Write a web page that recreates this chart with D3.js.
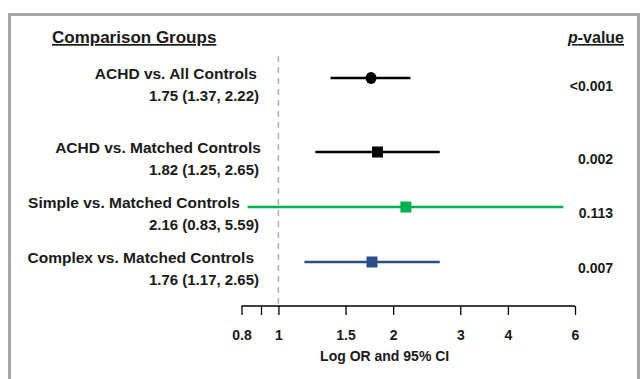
<!DOCTYPE html>
<html><head><meta charset="utf-8">
<script src="https://cdn.jsdelivr.net/npm/d3@7"></script>
<style>
html,body{margin:0;padding:0;background:#fff;}
text{font-family:"Liberation Sans Narrow","Arial Narrow","Liberation Sans",Arial,sans-serif;font-weight:bold;fill:#1a1a1a;}
</style></head>
<body><svg id="c" width="641" height="379"></svg>
<script>
const groups = ["ACHD vs. All Controls","ACHD vs. Matched Controls","Simple vs. Matched Controls","Complex vs. Matched Controls"];
const orValues = [1.75, 1.82, 2.16, 1.76];
const ciLow = [1.37, 1.25, 0.83, 1.17];
const ciHigh = [2.22, 2.65, 5.59, 2.65];
const pValues = ["<0.001","0.002","0.113","0.007"];
const tickValues = [0.8, 0.9, 1, 1.5, 2, 3, 4, 6];
const tickLabels = ["0.8","","1","1.5","2","3","4","6"];

// layout (not data)
const rowY = [78, 152, 207, 262];
const labelRight = [257, 261, 240, 254];
const shapes = ["circle","square","square","square"];
const colors = ["#000000","#000000","#00b050","#2a4f86"];
const pY = [91, 164, 218, 273];

const svg = d3.select("#c");
svg.append("rect").attr("x",9.5).attr("y",14.5).attr("width",629).attr("height",380)
  .attr("fill","none").attr("stroke","#a6a6a6").attr("stroke-width",3);

const x = d3.scaleLog().domain([0.8, 6]).range([241.5, 575]);
const axisY = 306;

// reference line
svg.append("line").attr("x1",x(1)).attr("x2",x(1)).attr("y1",56).attr("y2",axisY)
  .attr("stroke","#b0b0b0").attr("stroke-width",1.5).attr("stroke-dasharray","6,5");

// axis
const axis = d3.axisBottom(x).tickValues(tickValues).tickFormat((d,i)=>tickLabels[i]).tickSize(9).tickSizeOuter(0);
const ag = svg.append("g").attr("transform",`translate(0,${axisY})`).call(axis);
ag.select(".domain").attr("stroke","#000").attr("stroke-width",1.3).attr("d",`M${x(0.8)},0H${x(6)}`);
ag.selectAll(".tick line").attr("stroke","#000").attr("stroke-width",1.3);
ag.selectAll(".tick text").attr("y",24).attr("font-size",14).attr("fill","#1a1a1a")
  .style("font-family",'"Liberation Sans Narrow","Arial Narrow",Arial,sans-serif').style("font-weight","bold");

svg.append("text").attr("x",x(1.9)).attr("y",361).attr("text-anchor","middle").attr("font-size",14)
  .text("Log OR and 95% CI");

// headers
svg.append("text").attr("x",52).attr("y",43).attr("font-size",17).attr("text-decoration","underline")
  .text("Comparison Groups");
const pv = svg.append("text").attr("x",624).attr("y",43).attr("font-size",16).attr("text-anchor","end")
  .attr("text-decoration","underline");
pv.append("tspan").attr("font-style","italic").text("p");
pv.append("tspan").text("-value");

// rows
groups.forEach((g,i)=>{
  const y = rowY[i];
  svg.append("line").attr("x1",x(ciLow[i])).attr("x2",x(ciHigh[i])).attr("y1",y).attr("y2",y)
    .attr("stroke",colors[i]).attr("stroke-width",2.6);
  if(shapes[i]==="circle"){
    svg.append("ellipse").attr("cx",x(orValues[i])).attr("cy",y).attr("rx",5.5).attr("ry",6).attr("fill",colors[i]);
  } else {
    svg.append("rect").attr("x",x(orValues[i])-5.5).attr("y",y-5.5).attr("width",11).attr("height",11).attr("fill",colors[i]);
  }
  svg.append("text").attr("x",labelRight[i]).attr("y",y+1).attr("text-anchor","end").attr("font-size",15.5).text(g);
  svg.append("text").attr("x",259).attr("y",y+23).attr("text-anchor","end").attr("font-size",15)
    .text(`${orValues[i].toFixed(2)} (${ciLow[i].toFixed(2)}, ${ciHigh[i].toFixed(2)})`);
  svg.append("text").attr("x",613).attr("y",pY[i]).attr("text-anchor","end").attr("font-size",14).text(pValues[i]);
});
</script></body></html>
